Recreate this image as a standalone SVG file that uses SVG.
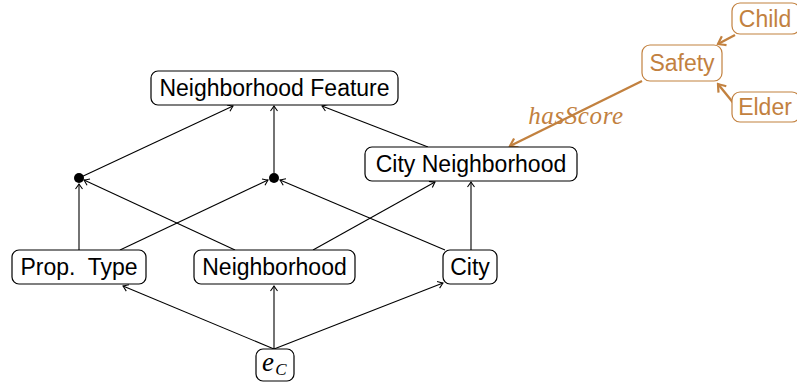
<svg xmlns="http://www.w3.org/2000/svg" width="797" height="386" viewBox="0 0 797 386">
  <style>
    .box { fill: #fff; stroke: #000; stroke-width: 1.2; }
    .obox { fill: #fff; stroke: #C2813F; stroke-width: 1.2; }
    .lbl { font-family: "Liberation Sans", "DejaVu Sans", sans-serif; font-size: 23px; fill: #000; text-anchor: middle; dominant-baseline: central; }
    .olbl { font-family: "Liberation Sans", "DejaVu Sans", sans-serif; font-size: 23px; fill: #C2813F; text-anchor: middle; dominant-baseline: central; }
    .edge { stroke: #000; stroke-width: 1.1; fill: none; marker-end: url(#tip); }
    .oedge { stroke: #C2813F; stroke-width: 2.4; fill: none; marker-end: url(#otip); }
  </style>
  <defs>
    <marker id="tip" viewBox="-6 -5 8 10" refX="0" refY="0" markerWidth="8" markerHeight="10" markerUnits="userSpaceOnUse" orient="auto">
      <path d="M-5,-3.5 Q-1.5,-1 0,0 Q-1.5,1 -5,3.5" fill="none" stroke="#000" stroke-width="1.1"/>
    </marker>
    <marker id="otip" viewBox="-9 -7 11 14" refX="0" refY="0" markerWidth="11" markerHeight="14" markerUnits="userSpaceOnUse" orient="auto">
      <path d="M-7,-5 Q-2,-1.5 0,0 Q-2,1.5 -7,5" fill="none" stroke="#C2813F" stroke-width="2.2"/>
    </marker>
  </defs>

  <g id="connectors">
    <line class="edge" x1="274" y1="349" x2="123" y2="286"/>
    <line class="edge" x1="274" y1="349" x2="274" y2="286"/>
    <line class="edge" x1="274" y1="349" x2="443" y2="283"/>
    <line class="edge" x1="79" y1="250" x2="79" y2="184"/>
    <line class="edge" x1="120" y1="250" x2="268" y2="180"/>
    <line class="edge" x1="235" y1="250" x2="84" y2="180"/>
    <line class="edge" x1="313" y1="250" x2="435" y2="182"/>
    <line class="edge" x1="445" y1="250" x2="280" y2="180"/>
    <line class="edge" x1="471" y1="250" x2="471" y2="182"/>
    <line class="edge" x1="79" y1="178" x2="233" y2="106"/>
    <line class="edge" x1="274" y1="173" x2="274" y2="106"/>
    <line class="edge" x1="428" y1="147" x2="322" y2="106"/>
    <line class="oedge" x1="642" y1="81" x2="510" y2="146"/>
    <line class="oedge" x1="735" y1="35" x2="718" y2="44"/>
    <line class="oedge" x1="735" y1="105" x2="718" y2="84"/>
    <text x="576" y="115" font-family="'Liberation Serif', 'DejaVu Serif', serif" font-style="italic" font-size="25" letter-spacing="0.6" fill="#C2813F" text-anchor="middle" dominant-baseline="central">hasScore</text>
  </g>

  <g id="dot-left"><circle cx="79" cy="178" r="5" fill="#000"/></g>
  <g id="dot-mid"><circle cx="274" cy="178" r="5" fill="#000"/></g>

  <g id="neighborhood-feature">
    <rect class="box" x="151" y="71" width="247" height="34" rx="7"/>
    <text class="lbl" x="274.5" y="88">Neighborhood Feature</text>
  </g>
  <g id="city-neighborhood">
    <rect class="box" x="365" y="147" width="212" height="34" rx="7"/>
    <text class="lbl" x="471" y="164">City Neighborhood</text>
  </g>
  <g id="prop-type">
    <rect class="box" x="12" y="250" width="134" height="34" rx="7"/>
    <text class="lbl" x="79" y="267">Prop.&#160; Type</text>
  </g>
  <g id="neighborhood">
    <rect class="box" x="194" y="250" width="161" height="34" rx="7"/>
    <text class="lbl" x="274.5" y="267">Neighborhood</text>
  </g>
  <g id="city">
    <rect class="box" x="443" y="250" width="54" height="34" rx="7"/>
    <text class="lbl" x="470" y="267">City</text>
  </g>
  <g id="entity">
    <rect class="box" x="256" y="349" width="38" height="32" rx="7"/>
    <text x="268" y="362" font-family="'Liberation Serif', 'DejaVu Serif', serif" font-style="italic" font-size="27" text-anchor="middle" dominant-baseline="central">e</text>
    <text x="281" y="369" font-family="'Liberation Serif', 'DejaVu Serif', serif" font-style="italic" font-size="17" text-anchor="middle" dominant-baseline="central">C</text>
  </g>
  <g id="safety">
    <rect class="obox" x="642" y="45" width="80" height="36" rx="8"/>
    <text class="olbl" x="682" y="63">Safety</text>
  </g>
  <g id="child">
    <rect class="obox" x="732" y="3" width="68" height="31" rx="8"/>
    <text class="olbl" x="765" y="18.5">Child</text>
  </g>
  <g id="elder">
    <rect class="obox" x="732" y="92" width="68" height="30" rx="8"/>
    <text class="olbl" x="765" y="107">Elder</text>
  </g>
</svg>
